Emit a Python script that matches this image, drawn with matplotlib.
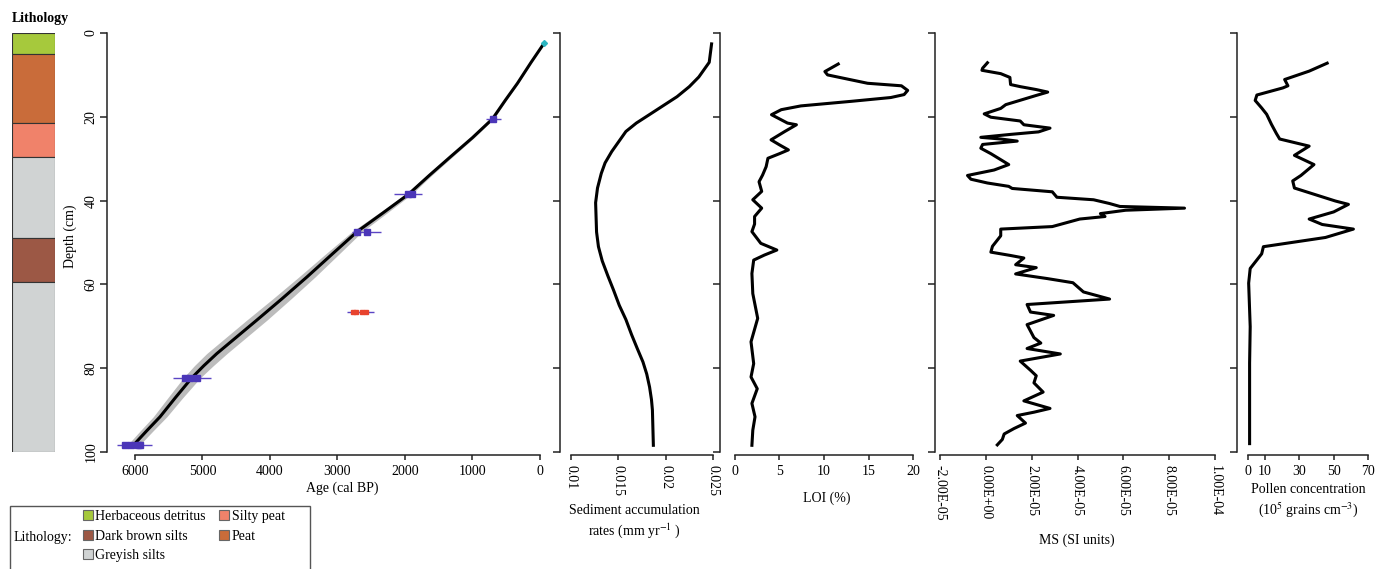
import numpy as np
import matplotlib
matplotlib.use('Agg')
import matplotlib.pyplot as plt
from matplotlib.patches import Patch, Rectangle

plt.rcParams['font.family'] = 'Liberation Serif'
plt.rcParams['mathtext.fontset'] = 'stix'
plt.rcParams['font.size'] = 10

# lithology units (depth in cm)
lith_top = [0, 5, 21.5, 29.5, 49, 59.5]
lith_bot = [5, 21.5, 29.5, 49, 59.5, 100]
lith_col = ['#a6c93c', '#c96c3a', '#f0826a', '#d0d3d3', '#9c5845', '#d0d3d3']
legend_names = ['Herbaceous detritus', 'Dark brown silts', 'Greyish silts', 'Silty peat', 'Peat']
legend_cols = ['#a6c93c', '#9c5845', '#d0d3d3', '#f0826a', '#c96c3a']

# age-depth model
model_depth = [2.4, 7, 12, 16, 20.5, 25, 29.5, 34, 38.4, 43, 47.4, 52.8, 58.2, 63.4,
               68.5, 72.5, 76.5, 79.4, 82.3, 87, 91.6, 95, 98.4]
model_age = [-64, 130, 332, 510, 703, 1000, 1322, 1640, 1941, 2330, 2708, 3080, 3450, 3820,
             4193, 4490, 4787, 4980, 5158, 5400, 5629, 5830, 6025]
model_err = [0, 5, 10, 15, 20, 25, 30, 35, 45, 60, 75, 100, 120, 135,
             150, 150, 150, 140, 125, 110, 100, 95, 90]

# dated levels
date_depth = [20.5, 38.4, 47.4, 82.3, 98.4]
date_lo = [580, 1740, 2360, 4870, 5750]
date_hi = [800, 2160, 2780, 5440, 6270]
mark_depth = [20.5, 38.4, 38.4, 47.4, 47.4, 82.3, 82.3, 82.3, 98.4, 98.4, 98.4, 98.4]
mark_age = [700, 1900, 1960, 2710, 2560, 5260, 5180, 5080, 6150, 6060, 5960, 5920]
outlier_depth = 66.5
outlier_lo, outlier_hi = 2460, 2860
outlier_marks = [2770, 2720, 2640, 2580]
surface_depth, surface_age = 2.4, -60

# sediment accumulation rate
sar_depth = [2.6, 7.0, 10.5, 12.8, 15.2, 17.4, 19.6, 21.5, 23.5, 28.3, 31.0, 33.5, 37.0,
             40.5, 47.5, 51.0, 54.4, 58.0, 61.4, 65.0, 68.4, 72.0, 75.3, 78.5, 81.4,
             84.5, 87.5, 90.0, 98.4]
sar = [0.02485, 0.0246, 0.0235, 0.0225, 0.0212, 0.0197, 0.0182, 0.0169, 0.0158, 0.0143,
       0.0136, 0.0132, 0.0128, 0.0126, 0.0127, 0.0129, 0.0133, 0.0139, 0.0145, 0.0151,
       0.0158, 0.0164, 0.0170, 0.0176, 0.0180, 0.0183, 0.0185, 0.0186, 0.0187]

# loss on ignition
loi_depth = [7.4, 9.2, 10.0, 12.0, 12.6, 13.7, 14.7, 15.4, 16.3, 17.4, 18.3, 19.5, 21.5,
             21.9, 23.5, 25.5, 26.7, 27.9, 28.8, 29.9, 31.9, 33.9, 35.5, 37.8, 39.8, 41.8,
             43.8, 45.6, 47.4, 50.2, 51.8, 53.0, 54.2, 57.4, 62.2, 68.1, 73.7, 78.9, 82.1,
             84.9, 88.4, 91.6, 94.8, 98.4]
loi = [11.6, 10.1, 10.4, 14.9, 18.7, 19.4, 19.0, 17.5, 13.1, 7.4, 5.2, 4.1, 5.9,
       6.9, 5.6, 4.05, 5.0, 6.0, 5.0, 3.7, 3.5, 3.1, 2.7, 3.0, 2.0, 3.0,
       2.2, 2.2, 1.9, 2.9, 4.7, 3.3, 2.1, 1.9, 2.0, 2.55, 1.8, 2.1, 1.8,
       2.5, 1.9, 2.25, 2.0, 1.9]

# magnetic susceptibility (x 1e-5 SI)
ms_depth = [7.1, 8.4, 8.9, 9.7, 10.6, 12.3, 12.8, 13.5, 14.1, 14.9, 17.1, 18.0, 19.3, 20.1,
            21.0, 21.9, 22.7, 23.6, 24.2, 24.9, 25.3, 25.8, 26.6, 27.5, 28.8, 31.4, 32.7,
            34.0, 34.9, 35.8, 36.6, 37.1, 37.9, 39.2, 39.8, 40.7, 41.4, 41.8, 42.3, 43.1,
            43.8, 44.4, 45.3, 46.2, 46.8, 48.4, 50.9, 52.3, 53.1, 53.7, 55.3, 56.0, 57.5,
            58.6, 59.6, 61.8, 63.5, 64.8, 66.6, 67.4, 69.6, 72.7, 74.0, 75.3, 76.6, 78.3,
            80.5, 81.8, 83.5, 85.7, 87.8, 89.6, 90.5, 91.3, 93.1, 94.4, 95.7, 97.0, 98.3]
ms = np.array([0.07, -0.14, -0.17, 0.65, 1.05, 1.08, 1.5, 2.2, 2.7, 2.2, 0.87, 0.65, -0.07,
               0.22, 1.5, 1.66, 2.8, 2.3, 1.08, -0.22, 0.65, 1.37, -0.14, -0.22, 0.22, 1.0,
               0.36, -0.8, -0.65, 0.07, 1.0, 1.15, 2.9, 3.1, 4.7, 5.4, 5.85, 8.67, 6.1, 5.0,
               5.2, 4.1, 3.5, 2.9, 0.65, 0.65, 0.29, 0.22, 1.08, 1.66, 1.3, 2.2, 1.3,
               2.67, 3.8, 4.26, 5.4, 1.8, 1.95, 2.96, 1.8, 2.1, 2.4, 1.8, 3.25, 1.5,
               1.95, 2.2, 2.1, 2.5, 1.66, 2.8, 2.1, 1.37, 1.73, 1.23, 0.8, 0.72, 0.5]) * 1e-5

# pollen concentration (10^5 grains cm-3)
pol_depth = [7.2, 9.1, 11.1, 12.6, 13.1, 14.8, 16.1, 17.9, 19.4, 21.8, 24.0, 25.3, 27.0,
             29.2, 31.4, 34.0, 35.3, 37.0, 40.1, 40.9, 42.7, 44.4, 45.7, 46.8, 48.8, 51.0,
             52.7, 56.2, 59.7, 70.1, 78.8, 98.0]
pol = [46.2, 35.7, 21.4, 23.3, 20.4, 5.2, 4.2, 8.0, 10.9, 13.7, 16.6, 18.5, 35.7,
       27.1, 38.5, 30.9, 26.1, 27.1, 51.0, 58.6, 50.0, 35.7, 43.3, 61.5, 45.2, 9.0,
       8.0, 1.3, 0.4, 1.3, 0.95, 0.95]

W, H = 1384, 569
TOP, BOT = 33, 452
fig = plt.figure(figsize=(W / 100, H / 100), dpi=100)


def box(x0, x1):
    return [x0 / W, 1 - BOT / H, (x1 - x0) / W, (BOT - TOP) / H]


def depth_axes(x0, x1, xlim, xticks, xlabels, rot=0):
    ax = fig.add_axes(box(x0, x1))
    ax.patch.set_alpha(0)
    ax.set_ylim(100, 0)
    ax.set_xlim(*xlim)
    ax.spines['top'].set_visible(False)
    ax.spines['right'].set_visible(False)
    ax.spines['left'].set_bounds(0, 100)
    ax.spines['bottom'].set_position(('outward', 2.2))
    ax.spines['bottom'].set_bounds(xticks[0], xticks[-1])
    for s in ['left', 'bottom']:
        ax.spines[s].set_linewidth(1.1)
        ax.spines[s].set_color('#222222')
    ax.set_yticks([0, 20, 40, 60, 80, 100])
    ax.set_yticklabels([])
    ax.tick_params(axis='y', length=5, width=1.1, color='#222222')
    ax.tick_params(axis='x', length=3.6, width=1.1, color='#222222', pad=3.5, labelsize=10)
    ax.set_xticks(xticks)
    if rot:
        ax.set_xticklabels(xlabels, rotation=270, va='top', ha='center')
    else:
        ax.set_xticklabels(xlabels)
    return ax


# lithology column
axl = fig.add_axes(box(12, 55))
axl.bar(0.5, np.array(lith_bot) - np.array(lith_top), bottom=lith_top, width=1,
        color=lith_col, edgecolor='#333333', linewidth=0.8)
axl.set_xlim(0, 1)
axl.set_ylim(100, 0)
axl.axis('off')
fig.text(12 / W, 1 - 22 / H, 'Lithology', fontsize=10, fontweight='bold', va='baseline', ha='left')

# age-depth
ax = depth_axes(107, 550, (6415, -150), [6000, 5000, 4000, 3000, 2000, 1000, 0],
                ['6000', '5000', '4000', '3000', '2000', '1000', '0'])
ax.set_yticklabels(['0', '20', '40', '60', '80', '100'], rotation=90, va='center')
ax.tick_params(axis='y', labelsize=10, pad=2)
lo = np.array(model_age) - np.array(model_err)
hi = np.array(model_age) + np.array(model_err)
ax.fill_betweenx(model_depth, lo, hi, color='#bcbcbc', lw=0, zorder=1)
ax.plot(model_age, model_depth, color='black', lw=2.2, zorder=2)
ax.hlines(date_depth, date_lo, date_hi, color='#5b45c4', lw=1, zorder=3)
ax.plot(mark_age, mark_depth, 's', color='#4b36b8', ms=4, zorder=4)
ax.hlines(outlier_depth, outlier_lo, outlier_hi, color='#5b45c4', lw=1, zorder=3)
ax.plot(outlier_marks, [outlier_depth] * len(outlier_marks), 's', color='#e8432e', ms=3.5, zorder=4)
ax.plot(surface_age, surface_depth, 'D', color='#2bb5c0', ms=3, zorder=4)
fig.text(70 / W, 1 - 236 / H, 'Depth (cm)', rotation=90, ha='center', va='center')
fig.text(342 / W, 1 - 488 / H, 'Age (cal BP)', ha='center', va='center')

# sediment accumulation rates
ax = depth_axes(560, 720, (0.008838, 0.025739), [0.01, 0.015, 0.02, 0.025],
                ['0.01', '0.015', '0.02', '0.025'], rot=True)
ax.plot(sar, sar_depth, color='black', lw=2.2)
fig.text(634 / W, 1 - 522 / H, 'Sediment accumulation\nrates (mm yr$^{-1}$ )',
         ha='center', va='center', linespacing=1.3)

# LOI
ax = depth_axes(720, 926, (-1.685, 21.46), [0, 5, 10, 15, 20], ['0', '5', '10', '15', '20'])
ax.plot(loi, loi_depth, color='black', lw=2.2)
fig.text(827 / W, 1 - 498 / H, 'LOI (%)', ha='center', va='center')

# MS
ax = depth_axes(935, 1220, (-2.218e-5, 1.0218e-4),
                [-2e-5, 0, 2e-5, 4e-5, 6e-5, 8e-5, 1e-4],
                ['-2.00E-05', '0.00E+00', '2.00E-05', '4.00E-05', '6.00E-05', '8.00E-05', '1.00E-04'],
                rot=True)
ax.plot(ms, ms_depth, color='black', lw=2.2)
fig.text(1077 / W, 1 - 540 / H, 'MS (SI units)', ha='center', va='center')

# pollen concentration
ax = depth_axes(1237, 1375, (-6.4, 74.1), [0, 10, 30, 50, 70], ['0', '10', '30', '50', '70'])
ax.plot(pol, pol_depth, color='black', lw=2.2)
fig.text(1308 / W, 1 - 501 / H, 'Pollen concentration\n(10$^{5}$ grains cm$^{-3}$)',
         ha='center', va='center', linespacing=1.3)

# lithology legend
handles = [Patch(facecolor=c, edgecolor='#666666', lw=0.8) for c in legend_cols]
fig.legend(handles, legend_names, ncol=2, loc='upper left',
           bbox_to_anchor=(83 / W, 1 - 510 / H), frameon=False, fontsize=10,
           handlelength=0.72, handleheight=0.72, handletextpad=0.15, columnspacing=1.0,
           labelspacing=0.47, borderpad=0, borderaxespad=0)
fig.text(14 / W, 1 - 538 / H, 'Lithology:', ha='left', va='center', fontsize=10)
fig.add_artist(Rectangle((10 / W, -0.05), 300 / W, 0.05 + (H - 506) / H,
                         transform=fig.transFigure, fill=False, ec='#555555', lw=1))

fig.savefig('out.png', dpi=100)
